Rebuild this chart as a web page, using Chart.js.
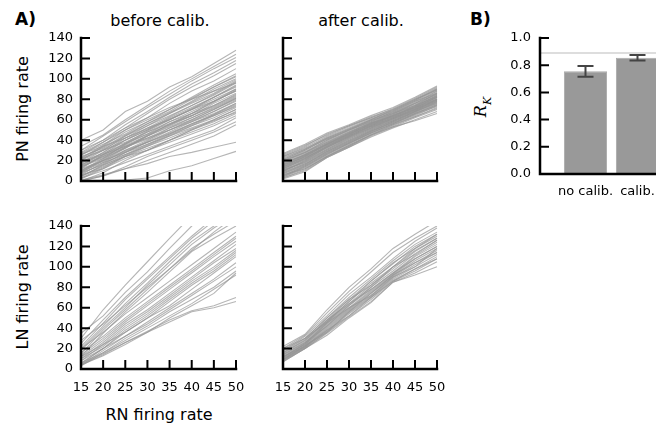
<!DOCTYPE html>
<html>
<head>
<meta charset="utf-8">
<script src="https://cdn.jsdelivr.net/npm/chart.js@4.4.1/dist/chart.umd.min.js"></script>
<style>
  body { margin: 0; width: 656px; height: 427px; overflow: hidden; background: #fff; position: relative; }
  canvas { position: absolute; }
  .t { position: absolute; font-family: 'DejaVu Sans', sans-serif; white-space: nowrap; line-height: 1; color: #000; font-size: 16px; }
  .rot { transform: translate(-50%, -50%) rotate(-90deg); }
  .mid { transform: translateX(-50%); }
</style>
</head>
<body>
<div class="t" style="left:15px;top:11px;font-size:17px;font-weight:bold;">A)</div>
<div class="t" style="left:470px;top:11px;font-size:17px;font-weight:bold;">B)</div>
<div class="t mid" style="left:160px;top:13px;">before calib.</div>
<div class="t mid" style="left:361px;top:13px;">after calib.</div>
<div class="t rot" style="left:23px;top:109px;">PN firing rate</div>
<div class="t rot" style="left:23px;top:297px;">LN firing rate</div>
<div class="t mid" style="left:159px;top:407px;">RN firing rate</div>
<div class="t rot" style="left:483px;top:107px;font-family:'DejaVu Serif',serif;font-style:italic;">R<sub style="font-size:11px;">K</sub></div>

<canvas id="pnBefore" width="238" height="175" style="left:20px;top:22px"></canvas>
<canvas id="pnAfter" width="209" height="175" style="left:250px;top:22px"></canvas>
<canvas id="lnBefore" width="238" height="190" style="left:20px;top:210px"></canvas>
<canvas id="lnAfter" width="209" height="190" style="left:250px;top:210px"></canvas>
<canvas id="rk" width="260" height="187" style="left:480px;top:21px"></canvas>

<script>
// ==================== DATA ====================
const xTicks = [15, 20, 25, 30, 35, 40, 45, 50];

// PN firing rate vs RN firing rate, before calibration
const pnBefore = [
    [40, 50, 68, 78, 92, 102, 115, 128],
    [34, 45, 60, 74, 88, 100, 112, 124],
    [30, 44, 58, 72, 85, 98, 110, 121],
    [28, 40, 55, 68, 82, 95, 106, 118],
    [25, 38, 52, 66, 80, 92, 103, 115],
    [22, 35, 50, 62, 76, 88, 98, 110],
    [20, 34, 48, 58, 70, 82, 94, 105],
    [26, 36, 46, 58, 68, 80, 92, 103],
    [18, 30, 44, 56, 66, 78, 90, 100],
    [15, 28, 42, 54, 66, 76, 86, 98],
    [24, 32, 44, 54, 64, 74, 84, 96],
    [12, 26, 40, 50, 62, 72, 82, 94],
    [20, 30, 40, 50, 60, 70, 82, 92],
    [10, 22, 36, 48, 58, 68, 78, 90],
    [16, 26, 36, 46, 58, 66, 78, 88],
    [8, 20, 32, 44, 56, 64, 76, 86],
    [22, 30, 38, 48, 56, 66, 74, 85],
    [6, 18, 30, 40, 52, 62, 72, 82],
    [14, 24, 34, 42, 52, 60, 70, 80],
    [4, 16, 28, 38, 48, 58, 68, 78],
    [18, 26, 34, 42, 50, 58, 66, 76],
    [10, 20, 30, 38, 46, 56, 64, 74],
    [2, 12, 24, 34, 44, 54, 62, 72],
    [12, 20, 28, 36, 44, 52, 60, 70],
    [5, 14, 24, 32, 40, 50, 58, 68],
    [0, 8, 20, 30, 40, 48, 56, 66],
    [8, 16, 24, 30, 38, 46, 54, 64],
    [3, 10, 18, 26, 34, 42, 50, 62],
    [0, 5, 14, 24, 32, 40, 48, 58],
    [1, 6, 12, 20, 28, 36, 44, 55],
    [0, 5, 12, 17, 24, 28, 33, 38],
    [0, 0, 1, 3, 10, 15, 22, 29],
    [30, 40, 52, 62, 72, 80, 88, 96],
    [26, 34, 42, 52, 60, 70, 78, 88],
    [14, 22, 32, 44, 54, 64, 74, 84],
    [6, 12, 22, 30, 40, 50, 60, 70],
    [17, 28, 40, 52, 63, 74, 85, 97],
    [13, 25, 37, 49, 60, 71, 82, 93],
    [21, 31, 42, 51, 61, 70, 80, 90],
    [9, 21, 33, 45, 55, 66, 77, 89],
    [19, 27, 37, 46, 55, 64, 73, 83],
    [7, 17, 28, 39, 50, 60, 70, 81],
    [15, 23, 33, 41, 50, 59, 68, 79],
    [11, 19, 29, 38, 47, 56, 65, 75],
    [3, 13, 25, 35, 45, 54, 64, 73],
    [23, 33, 45, 56, 67, 77, 88, 99],
    [27, 38, 50, 60, 70, 81, 92, 102],
    [16, 24, 35, 44, 53, 62, 71, 81],
    [5, 15, 26, 36, 46, 55, 65, 76],
    [9, 18, 26, 34, 42, 51, 59, 67]
];

// PN firing rate, after calibration
const pnAfter = [
    [27, 36, 47, 55, 64, 72, 82, 93],
    [25, 34, 46, 54, 63, 70, 80, 91],
    [24, 33, 44, 53, 62, 69, 79, 90],
    [22, 31, 43, 52, 61, 68, 78, 89],
    [21, 30, 41, 50, 60, 67, 77, 88],
    [20, 29, 40, 49, 59, 66, 76, 87],
    [19, 28, 39, 48, 58, 66, 75, 86],
    [18, 27, 38, 47, 57, 65, 74, 85],
    [17, 26, 37, 46, 56, 64, 73, 84],
    [16, 25, 36, 46, 55, 63, 73, 84],
    [15, 24, 35, 45, 55, 63, 72, 83],
    [14, 24, 35, 44, 54, 62, 71, 82],
    [13, 23, 34, 44, 54, 62, 71, 82],
    [12, 22, 33, 43, 53, 61, 70, 81],
    [12, 21, 32, 42, 52, 61, 70, 80],
    [11, 20, 31, 42, 52, 60, 69, 80],
    [10, 19, 30, 41, 51, 60, 69, 79],
    [10, 18, 29, 40, 50, 59, 68, 78],
    [9, 17, 29, 39, 49, 58, 67, 78],
    [8, 16, 28, 38, 48, 58, 67, 77],
    [7, 15, 27, 37, 48, 57, 66, 76],
    [6, 14, 26, 36, 47, 56, 65, 75],
    [5, 13, 25, 35, 46, 55, 64, 74],
    [4, 12, 24, 34, 45, 54, 63, 72],
    [3, 10, 23, 33, 44, 53, 62, 70],
    [2, 9, 23, 33, 43, 52, 60, 68],
    [6, 12, 24, 34, 45, 53, 59, 66],
    [14, 22, 34, 45, 56, 65, 76, 88],
    [18, 25, 36, 47, 57, 66, 74, 86],
    [9, 20, 33, 44, 54, 64, 72, 80],
    [11, 18, 30, 40, 50, 59, 68, 76],
    [20, 28, 38, 48, 57, 63, 72, 82],
    [16, 26, 36, 45, 54, 62, 70, 79],
    [4, 14, 26, 37, 47, 56, 66, 74],
    [23, 31, 41, 50, 58, 68, 78, 86],
    [8, 17, 28, 38, 49, 58, 68, 80],
    [19, 28, 40, 50, 59, 67, 76, 85],
    [15, 25, 36, 46, 55, 64, 72, 82],
    [12, 21, 33, 43, 53, 61, 70, 79],
    [10, 19, 31, 41, 51, 59, 68, 77],
    [21, 30, 42, 51, 60, 69, 79, 90],
    [17, 26, 37, 47, 56, 64, 74, 83],
    [13, 22, 34, 44, 53, 62, 71, 80],
    [7, 16, 29, 39, 49, 57, 66, 75],
    [24, 32, 42, 51, 60, 70, 80, 89],
    [5, 15, 27, 37, 47, 56, 65, 73],
    [16, 23, 33, 43, 52, 61, 69, 78],
    [26, 35, 45, 54, 62, 71, 81, 92],
    [3, 11, 24, 35, 45, 55, 63, 71],
    [14, 24, 36, 46, 56, 64, 73, 83]
];

// LN firing rate, before calibration (values above 140 are clipped)
const lnBefore = [
    [30, 58, 82, 105, 128, 150, 172, 195],
    [35, 52, 75, 95, 118, 140, 160, 180],
    [25, 48, 70, 90, 110, 130, 148, 165],
    [22, 45, 68, 88, 108, 128, 145, 162],
    [20, 42, 64, 84, 105, 125, 140, 156],
    [18, 40, 60, 82, 102, 122, 138, 152],
    [15, 38, 58, 78, 98, 118, 132, 145],
    [12, 35, 56, 75, 95, 115, 128, 140],
    [28, 44, 62, 80, 98, 116, 134, 150],
    [14, 30, 48, 64, 80, 96, 112, 128],
    [12, 28, 46, 62, 78, 94, 110, 125],
    [10, 26, 44, 58, 74, 90, 106, 122],
    [8, 24, 42, 56, 72, 88, 104, 118],
    [10, 22, 40, 54, 70, 86, 100, 116],
    [6, 20, 38, 52, 68, 84, 98, 114],
    [5, 20, 36, 50, 66, 82, 96, 112],
    [12, 24, 36, 50, 62, 78, 94, 110],
    [4, 18, 32, 46, 60, 74, 88, 104],
    [8, 20, 32, 44, 58, 72, 86, 100],
    [3, 16, 30, 42, 56, 68, 80, 96],
    [6, 16, 28, 40, 52, 64, 78, 92],
    [4, 14, 26, 36, 50, 62, 74, 94],
    [4, 13, 24, 36, 46, 56, 60, 66],
    [5, 15, 26, 37, 48, 57, 62, 70],
    [16, 32, 50, 66, 82, 98, 114, 130],
    [20, 36, 54, 70, 86, 102, 118, 134]
];

// LN firing rate, after calibration
const lnAfter = [
    [22, 34, 58, 80, 98, 118, 132, 145],
    [20, 33, 55, 76, 95, 114, 128, 140],
    [18, 32, 52, 73, 90, 108, 125, 138],
    [17, 30, 50, 70, 88, 106, 122, 134],
    [16, 29, 48, 68, 86, 103, 120, 132],
    [15, 28, 47, 66, 84, 100, 118, 130],
    [14, 27, 46, 64, 82, 98, 115, 128],
    [13, 26, 45, 63, 80, 96, 113, 126],
    [12, 25, 44, 62, 78, 94, 111, 124],
    [12, 24, 43, 60, 77, 93, 110, 122],
    [11, 24, 42, 59, 76, 92, 108, 120],
    [10, 23, 41, 58, 75, 91, 106, 118],
    [10, 22, 40, 57, 74, 90, 104, 116],
    [9, 22, 39, 56, 72, 89, 102, 114],
    [9, 21, 38, 55, 71, 88, 100, 112],
    [8, 21, 37, 54, 70, 87, 98, 110],
    [8, 20, 36, 52, 68, 86, 96, 108],
    [7, 20, 35, 51, 66, 85, 94, 105],
    [7, 20, 33, 50, 65, 85, 92, 100],
    [20, 30, 50, 68, 82, 100, 116, 128],
    [14, 26, 42, 62, 80, 100, 112, 126],
    [11, 25, 45, 60, 72, 90, 100, 118],
    [16, 28, 48, 64, 78, 94, 108, 120],
    [9, 23, 36, 56, 74, 92, 104, 114],
    [12, 22, 38, 52, 70, 86, 98, 108],
    [18, 30, 46, 66, 86, 104, 118, 132]
];

// Panel B: R_K with and without calibration
const barLabels = ['no calib.', 'calib.'];
const rkValues = [0.755, 0.855];
const rkErr = [0.04, 0.02];
const rkRef = 0.89;

// ==================== PLUGINS ====================
Chart.defaults.font.family = "'DejaVu Sans', sans-serif";
Chart.defaults.font.size = 13;
Chart.defaults.color = '#000';

// spines + inward ticks, matplotlib style
const spines = {
    id: 'spines',
    afterDatasetsDraw(chart, args, opts) {
        const ctx = chart.ctx, a = chart.chartArea;
        ctx.save();
        ctx.strokeStyle = '#000';
        ctx.lineWidth = 2;
        ctx.beginPath();
        if (opts.xTicks) {
            chart.scales.x.ticks.forEach((t, i) => {
                const px = chart.scales.x.getPixelForTick(i);
                ctx.moveTo(px, a.bottom);
                ctx.lineTo(px, a.bottom - 9);
            });
        }
        chart.scales.y.ticks.forEach((t, i) => {
            const py = chart.scales.y.getPixelForTick(i);
            ctx.moveTo(a.left, py);
            ctx.lineTo(a.left + 9, py);
        });
        ctx.stroke();
        ctx.lineWidth = 2.5;
        ctx.lineCap = 'square';
        ctx.beginPath();
        ctx.moveTo(a.left, a.top);
        ctx.lineTo(a.left, a.bottom);
        ctx.lineTo(a.right, a.bottom);
        ctx.stroke();
        ctx.restore();
    }
};

// reference line and error bars for panel B
const barExtras = {
    id: 'barExtras',
    beforeDatasetsDraw(chart) {
        const ctx = chart.ctx, a = chart.chartArea, y = chart.scales.y;
        const py = y.getPixelForValue(rkRef);
        ctx.save();
        ctx.strokeStyle = '#dddddd';
        ctx.lineWidth = 2;
        ctx.beginPath();
        ctx.moveTo(a.left, py);
        ctx.lineTo(a.right, py);
        ctx.stroke();
        ctx.restore();
    },
    afterDatasetsDraw(chart) {
        const ctx = chart.ctx, x = chart.scales.x, y = chart.scales.y;
        ctx.save();
        ctx.strokeStyle = '#444';
        ctx.lineWidth = 2;
        ctx.beginPath();
        rkValues.forEach((v, i) => {
            const px = x.getPixelForValue(i);
            const lo = y.getPixelForValue(v - rkErr[i]);
            const hi = y.getPixelForValue(v + rkErr[i]);
            ctx.moveTo(px, lo); ctx.lineTo(px, hi);
            ctx.moveTo(px - 8, lo); ctx.lineTo(px + 8, lo);
            ctx.moveTo(px - 8, hi); ctx.lineTo(px + 8, hi);
        });
        ctx.stroke();
        ctx.restore();
    }
};

// ==================== LINE PANELS ====================
function linePanel(id, series, yWidth, xHeight, showX) {
    new Chart(document.getElementById(id), {
        type: 'line',
        data: {
            labels: xTicks,
            datasets: series.map(s => ({
                data: s,
                borderColor: 'rgba(150, 150, 150, 0.7)',
                borderWidth: 1.1,
                pointRadius: 0,
                tension: 0,
                fill: false
            }))
        },
        options: {
            responsive: false,
            animation: false,
            events: [],
            layout: { padding: { top: 16, right: 22, left: 0, bottom: 0 } },
            plugins: {
                legend: { display: false },
                tooltip: { enabled: false },
                spines: { xTicks: true }
            },
            scales: {
                x: {
                    offset: false,
                    grid: { display: false, drawTicks: false },
                    border: { display: false },
                    ticks: { display: showX, autoSkip: false, maxRotation: 0, padding: 11 },
                    afterFit: s => { s.height = xHeight; }
                },
                y: {
                    min: 0,
                    max: 140,
                    grid: { display: false, drawTicks: false },
                    border: { display: false },
                    ticks: { stepSize: 20, display: yWidth > 40, padding: 8 },
                    afterFit: s => { s.width = yWidth; }
                }
            }
        },
        plugins: [spines]
    });
}

linePanel('pnBefore', pnBefore, 61, 16, false);
linePanel('pnAfter', pnAfter, 33, 16, false);
linePanel('lnBefore', lnBefore, 61, 31, true);
linePanel('lnAfter', lnAfter, 33, 31, true);

// ==================== BAR PANEL ====================
new Chart(document.getElementById('rk'), {
    type: 'bar',
    data: {
        datasets: [{
            data: rkValues.map((v, i) => ({ x: i, y: v })),
            backgroundColor: '#999999',
            borderColor: '#aaaaaa',
            borderWidth: 1,
            barPercentage: 0.83,
            categoryPercentage: 1
        }]
    },
    options: {
        responsive: false,
        animation: false,
        events: [],
        layout: { padding: { top: 17, right: 40, left: 0, bottom: 0 } },
        plugins: {
            legend: { display: false },
            tooltip: { enabled: false },
            spines: { xTicks: false }
        },
        scales: {
            x: {
                type: 'linear',
                offset: false,
                min: -0.875,
                max: 2.202,
                grid: { display: false, drawTicks: false },
                border: { display: false },
                afterBuildTicks: s => { s.ticks = barLabels.map((_, i) => ({ value: i })); },
                ticks: { autoSkip: false, maxRotation: 0, padding: 10, callback: v => barLabels[v] },
                afterFit: s => { s.height = 34; }
            },
            y: {
                min: 0,
                max: 1,
                grid: { display: false, drawTicks: false },
                border: { display: false },
                ticks: { stepSize: 0.2, padding: 9, callback: v => v.toFixed(1) },
                afterFit: s => { s.width = 60; }
            }
        }
    },
    plugins: [barExtras, spines]
});
</script>
</body>
</html>
